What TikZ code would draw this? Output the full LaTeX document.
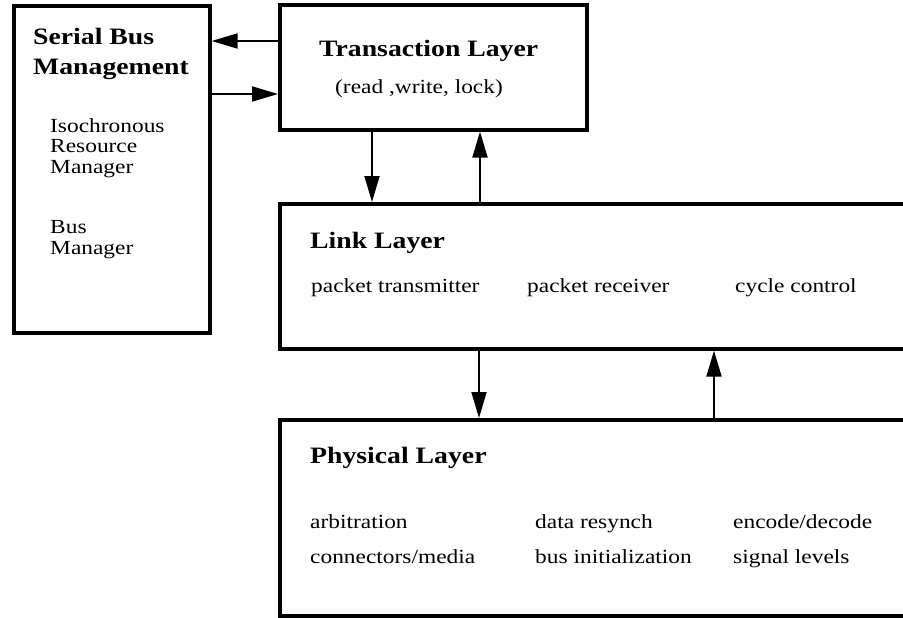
\documentclass[tikz,border=0pt]{standalone}
\usepackage{fontspec}
\setmainfont{Liberation Serif}[FakeStretch=1.17]
\newfontfamily\headfont{Liberation Serif}[FakeStretch=1.18]
\usetikzlibrary{arrows.meta}

\begin{document}
\begin{tikzpicture}[x=1pt,y=-1pt,
  layer/.style={draw, line width=3.6pt, inner sep=0pt, anchor=north west},
  head/.style={anchor=base west, inner sep=0pt, font=\headfont\bfseries\fontsize{23.5}{30}\selectfont},
  item/.style={anchor=base west, inner sep=0pt, font=\fontsize{20}{20.5}\selectfont},
  flow/.style={line width=1.9pt, -{Triangle[length=26pt,width=15pt]}}
]
\fill[white] (0,0) rectangle (903,618);
\useasboundingbox (0,0) rectangle (903,618);
\clip (0,0) rectangle (903,618);

% protocol blocks
\node[layer, minimum width=196pt, minimum height=327pt] (sbm) at (12,4) {};
\node[layer, minimum width=307pt, minimum height=125pt] (trans) at (278,3) {};
\node[layer, minimum width=660pt, minimum height=145pt] (link) at (278,202) {};
\node[layer, minimum width=660pt, minimum height=196pt] (phys) at (278,418) {};

% serial bus management
\node[head] (sbmA) at (33,45) {Serial Bus};
\node[head] (sbmB) at (33,75) {Management};
\node[item] (sbmC) at (50,132) {Isochronous};
\node[item] (sbmD) at (50,153) {Resource};
\node[item] (sbmE) at (50,173) {Manager};
\node[item] (sbmF) at (50,233) {Bus};
\node[item] (sbmG) at (50,254) {Manager};

% transaction layer
\node[head] (transA) at (319,57) {Transaction Layer};
\node[item] (transB) at (335,93) {(read ,write, lock)};

% link layer
\node[head] (linkA) at (310,248) {Link Layer};
\node[item] (linkB) at (311,292) {packet transmitter};
\node[item] (linkC) at (527,292) {packet receiver};
\node[item] (linkD) at (735,292) {cycle control};

% physical layer
\node[head] (physA) at (310,463) {Physical Layer};
\node[item] (physB) at (310,528) {arbitration};
\node[item] (physC) at (535,528) {data resynch};
\node[item] (physD) at (733,528) {encode/decode};
\node[item] (physE) at (310,563) {connectors/media};
\node[item] (physF) at (535,563) {bus initialization};
\node[item] (physG) at (733,563) {signal levels};

% connector positions
\coordinate (ay1) at (0,41);
\coordinate (ay2) at (0,94);
\coordinate (ax1) at (372,0);
\coordinate (ax2) at (480,0);
\coordinate (ax3) at (479,0);
\coordinate (ax4) at (714,0);

\draw[flow] (trans.west |- ay1) -- (sbm.east |- ay1);
\draw[flow] (sbm.east |- ay2) -- (trans.west |- ay2);
\draw[flow] (ax1 |- trans.south) -- (ax1 |- link.north);
\draw[flow] (ax2 |- link.north) -- (ax2 |- trans.south);
\draw[flow] (ax3 |- link.south) -- (ax3 |- phys.north);
\draw[flow] (ax4 |- phys.north) -- (ax4 |- link.south);
\end{tikzpicture}
\end{document}
